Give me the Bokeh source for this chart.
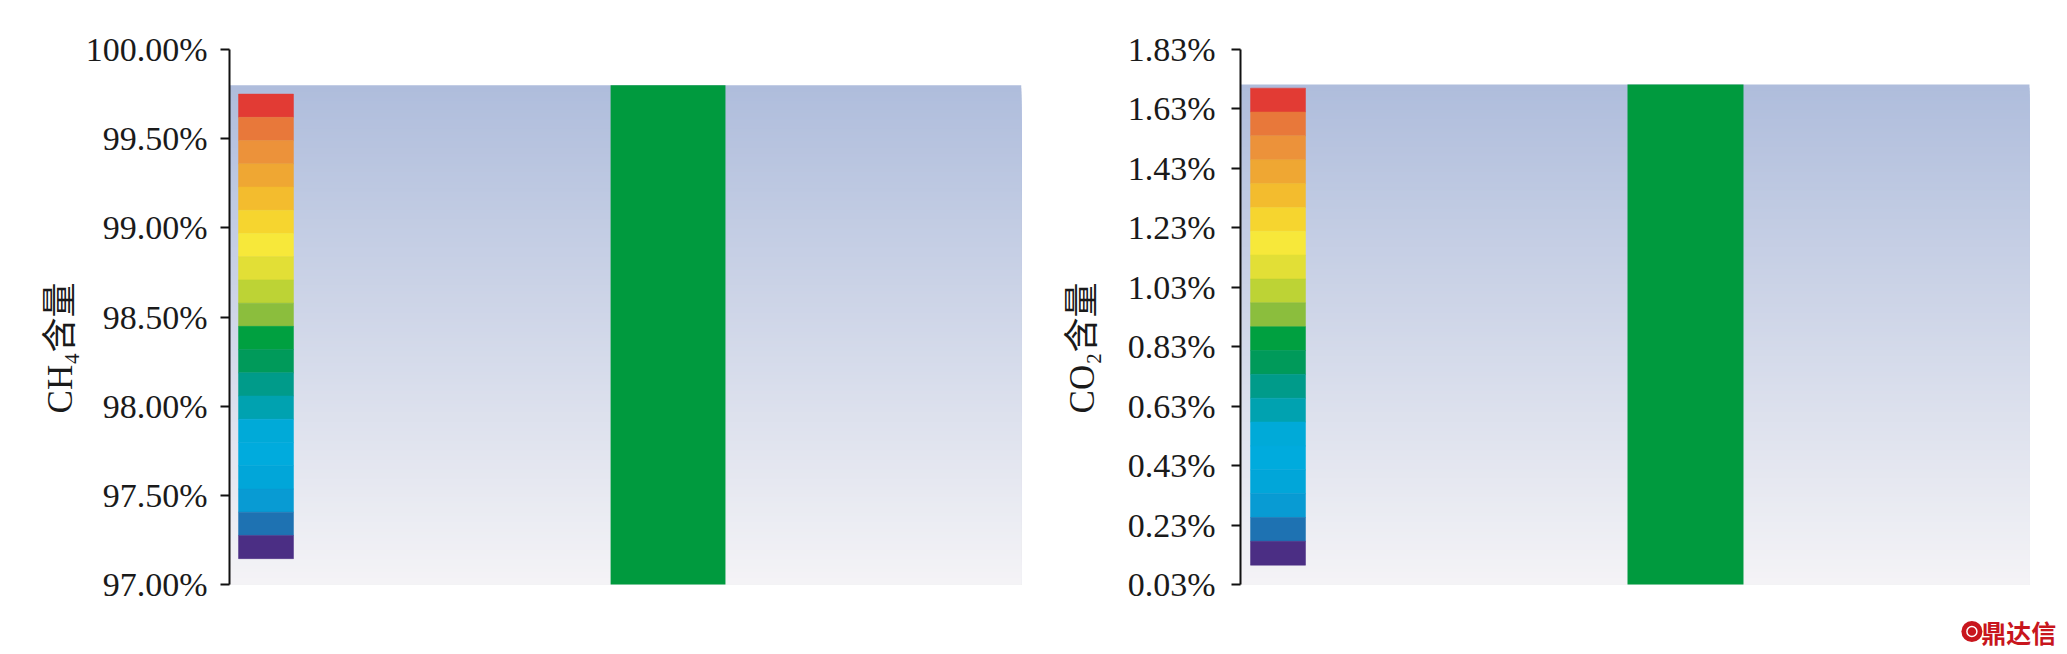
from bokeh.plotting import figure
from bokeh.layouts import row
from bokeh.models import Range1d, FixedTicker, CustomJSTickFormatter
from bokeh.embed import file_html
from bokeh.resources import INLINE
from bokeh.core.properties import value

# ---------------- data ----------------
axis_labels = ["CH₄含量", "CO₂含量"]
bar_values = [99.80, 1.712]          # level of the green column / gradient top
axis_min = [97.00, 0.03]
axis_max = [100.00, 1.83]
ch4_ticks = [97.00, 97.50, 98.00, 98.50, 99.00, 99.50, 100.00]
co2_ticks = [0.03, 0.23, 0.43, 0.63, 0.83, 1.03, 1.23, 1.43, 1.63, 1.83]
scale_low = [97.145, 0.095]          # colour scale extent per panel
scale_high = [99.75, 1.70]
band_colors = [                       # top -> bottom
    "#E23B34", "#E8783A", "#EC923A", "#EFA733", "#F3BC2E",
    "#F6D52F", "#F7E83A", "#E2DF36", "#BDD335", "#8BBE3D",
    "#00A040", "#009A5A", "#009B8A", "#00A2B0", "#00AAD8",
    "#00ABDD", "#01A6D9", "#089BD3", "#1E72B2", "#4B2E84",
]
watermark = "鼎达信"

# ---------------- style / layout ----------------
BAR_COLOR = "#009A3E"
GRAD_TOP = (175, 189, 220)
GRAD_BOT = (244, 243, 246)
SERIF = "'Liberation Serif', 'DejaVu Serif', 'Noto Sans CJK SC'"
H = 650
TOP = 49
AXIS_PX = 535          # pixel height of the axis span
EXT_PX = 62            # extra frame below the axis (room for the watermark)
BOTTOM = H - TOP - AXIS_PX - EXT_PX


def hexcol(c):
    return "#%02x%02x%02x" % tuple(int(round(v)) for v in c)


def make_panel(i, ticks, width, border_left, border_right, x_end, bar_center, bar_width,
               cb_x0, cb_x1, label_standoff, tick_standoff):
    lo, hi = axis_min[i], axis_max[i]
    per_px = (hi - lo) / AXIS_PX
    p = figure(width=width, height=H, output_backend="svg", toolbar_location=None,
               x_range=Range1d(0, x_end), y_range=Range1d(lo - EXT_PX * per_px, hi),
               x_axis_location=None,
               min_border_left=border_left, min_border_right=border_right,
               min_border_top=TOP, min_border_bottom=BOTTOM)
    p.outline_line_color = None
    p.grid.visible = False
    p.background_fill_color = "white"

    # vertical gradient background (nested quads, no seams)
    n = 160
    top = bar_values[i]
    for k in range(n):
        f = k / (n - 1)  # 0 at top
        t = top - (top - lo) * k / n
        c = [GRAD_TOP[j] + (GRAD_BOT[j] - GRAD_TOP[j]) * f for j in range(3)]
        p.quad(left=0, right=1, bottom=lo, top=t, fill_color=hexcol(c), line_color=None)

    # colour scale bands
    nb = len(band_colors)
    step = (scale_high[i] - scale_low[i]) / nb
    tops = [scale_high[i] - step * k for k in range(nb)]
    bots = [t - step for t in tops]
    p.quad(left=cb_x0, right=cb_x1, top=tops, bottom=bots, fill_color=band_colors,
           line_color=band_colors, line_width=0.5)

    # the green column
    p.vbar(x=[bar_center], width=bar_width, top=[bar_values[i]], bottom=[lo],
           fill_color=BAR_COLOR, line_color=None)

    ax = p.yaxis[0]
    ax.bounds = (lo, hi)
    ax.ticker = FixedTicker(ticks=ticks)
    ax.formatter = CustomJSTickFormatter(code="return tick.toFixed(2) + '%';")
    ax.axis_line_width = 2
    ax.axis_line_color = "#111111"
    ax.major_tick_line_width = 2
    ax.major_tick_line_color = "#111111"
    ax.major_tick_in = 0
    ax.major_tick_out = 9
    ax.minor_tick_line_color = None
    ax.major_label_standoff = tick_standoff
    ax.major_label_text_font = SERIF
    ax.major_label_text_font_size = "34px"
    ax.major_label_text_color = "#1a1a1a"
    ax.axis_label = axis_labels[i]
    ax.axis_label_text_font = SERIF
    ax.axis_label_text_font_size = "35px"
    ax.axis_label_text_font_style = "normal"
    ax.axis_label_text_color = "#1a1a1a"
    ax.axis_label_standoff = label_standoff
    return p, per_px


p1, _ = make_panel(0, ch4_ticks, 1039, 229, 18, 1.0, 0.5537, 0.145, 0.0114, 0.0808, 3, 13)
p2, per2 = make_panel(1, co2_ticks, 1022, 201, 2, 819 / 789, 0.564, 0.147, 0.0127, 0.0824, 23, 16)

# watermark (below the right panel's axis span)
wm_y = axis_min[1] - 47 * per2
p2.scatter(x=[0.927], y=[wm_y], size=21, marker="circle", fill_color="#C8161D", line_color=None)
p2.scatter(x=[0.927], y=[wm_y], size=10, marker="circle", fill_color=None,
           line_color="white", line_width=1.5)
p2.text(x=[0.939], y=[wm_y], text=[watermark], text_color="#C8161D",
        text_font=value("Noto Sans CJK SC"), text_font_style="bold",
        text_font_size="25px", text_baseline="middle", text_align="left")

layout = row(p1, p2)
open("out.html", "w").write(file_html(layout, INLINE))
